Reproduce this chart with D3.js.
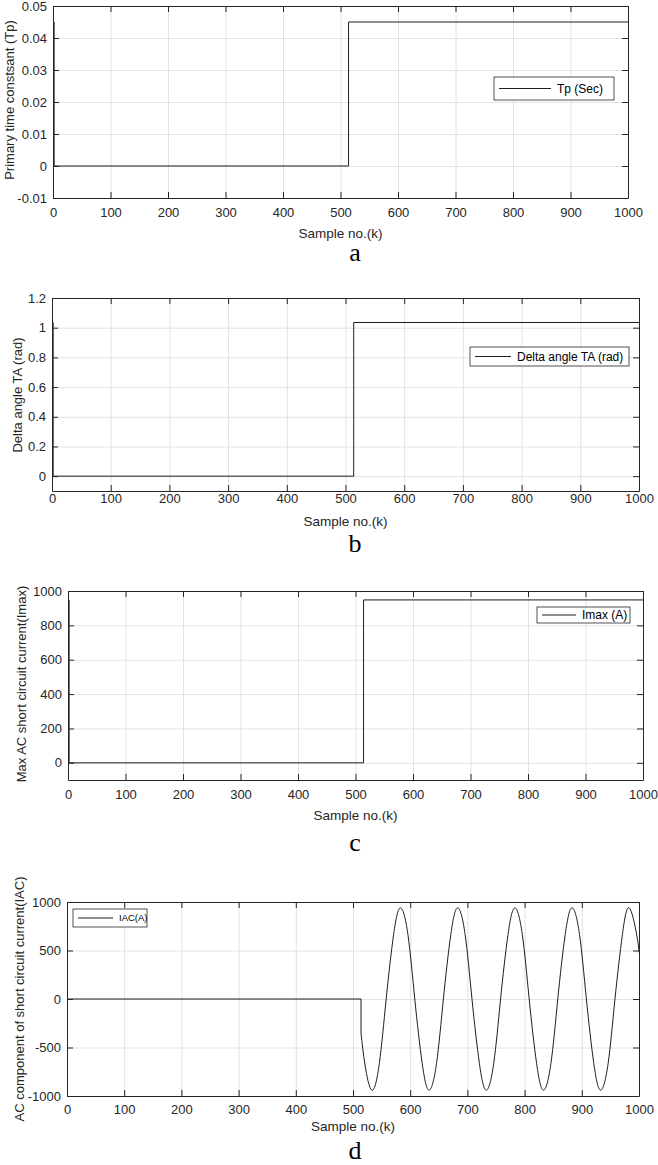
<!DOCTYPE html>
<html>
  <head>
    <meta charset="utf-8" />
    <title>Fault current parameters</title>
    <script src="https://cdn.jsdelivr.net/npm/d3@7"></script>
    <style>
      body {
        margin: 0;
        background: #fff;
      }
      svg {
        display: block;
        font-family: "Liberation Sans", Arial, sans-serif;
      }
    </style>
  </head>
  <body>
    <svg id="chart" width="658" height="1165"></svg>
    <script>
      // sample numbers and tick values
      const xTicks = [0, 100, 200, 300, 400, 500, 600, 700, 800, 900, 1000];

      // step signals (a, b, c) are sampled at these k, drawn as step-after
      const stepK = [0, 2, 514, 1000];
      const tpValues = [0.045, 0, 0.045, 0.045];
      const taValues = [1.035, 0, 1.035, 1.035];
      const imaxValues = [948, 0, 948, 948];

      // IAC: flat before the fault, then the oscillation
      const iacPreK = [0, 514, 514];
      const iacPreV = [0, 0, -350];
      const iacK = [514, 521, 533, 546, 558, 571, 583, 596, 608, 621, 633, 646, 658,
        671, 683, 696, 708, 721, 733, 746, 758, 771, 783, 796, 808, 821, 833, 846,
        858, 871, 883, 896, 908, 921, 933, 946, 958, 971, 983, 996, 1000];
      const iacV = [-350, -680, -940, -665, 0, 665, 940, 665, 0, -665, -940, -665, 0,
        665, 940, 665, 0, -665, -940, -665, 0, 665, 940, 665, 0, -665, -940, -665,
        0, 665, 940, 665, 0, -665, -940, -665, 0, 665, 940, 660, 480];

      const tpTicks = [-0.01, 0, 0.01, 0.02, 0.03, 0.04, 0.05];
      const taTicks = [0, 0.2, 0.4, 0.6, 0.8, 1, 1.2];
      const imaxTicks = [0, 200, 400, 600, 800, 1000];
      const iacTicks = [-1000, -500, 0, 500, 1000];

      const ink = "#262626";
      const gridColor = "#e2e2e2";
      const lineColor = "#1e1e1e";
      const svg = d3.select("#chart");

      function drawPanel(p) {
        const g = svg.append("g");
        const x = d3.scaleLinear().domain([0, 1000]).range([p.l, p.r]);
        const y = d3.scaleLinear().domain(p.yDomain).range([p.b, p.t]);
        const h = p.b - p.t;
        const w = p.r - p.l;

        // grid
        g.append("g")
          .attr("transform", `translate(0,${p.b})`)
          .call(d3.axisBottom(x).tickValues(xTicks).tickSize(-h).tickFormat(""))
          .call((s) => {
            s.select(".domain").remove();
            s.selectAll("line").attr("stroke", gridColor);
          });
        g.append("g")
          .attr("transform", `translate(${p.l},0)`)
          .call(d3.axisLeft(y).tickValues(p.yTicks).tickSize(-w).tickFormat(""))
          .call((s) => {
            s.select(".domain").remove();
            s.selectAll("line").attr("stroke", gridColor);
          });

        // data
        p.series.forEach((sr) => {
          const line = d3
            .line()
            .x((d) => x(d[0]))
            .y((d) => y(d[1]))
            .curve(sr.curve);
          g.append("path")
            .datum(d3.zip(sr.k, sr.v))
            .attr("fill", "none")
            .attr("stroke", lineColor)
            .attr("stroke-width", 1)
            .attr("d", line);
        });

        // axes, ticks pointing inward on all four sides
        const styleAxis = (s) => {
          s.select(".domain").attr("stroke", ink);
          s.selectAll("line").attr("stroke", ink);
          s.selectAll("text")
            .attr("fill", ink)
            .style("font-size", "13px")
            .style("font-family", "'Liberation Sans', Arial, sans-serif");
        };
        g.append("g")
          .attr("transform", `translate(0,${p.b})`)
          .call(
            d3.axisBottom(x).tickValues(xTicks).tickSizeInner(-6).tickSizeOuter(0)
              .tickPadding(p.xPad).tickFormat((d) => String(d))
          )
          .call(styleAxis);
        g.append("g")
          .attr("transform", `translate(0,${p.t})`)
          .call(d3.axisTop(x).tickValues(xTicks).tickSizeInner(-6).tickSizeOuter(0).tickFormat(""))
          .call(styleAxis);
        g.append("g")
          .attr("transform", `translate(${p.l},0)`)
          .call(
            d3.axisLeft(y).tickValues(p.yTicks).tickSizeInner(-6).tickSizeOuter(0)
              .tickPadding(6).tickFormat((d) => String(d))
          )
          .call(styleAxis);
        g.append("g")
          .attr("transform", `translate(${p.r},0)`)
          .call(d3.axisRight(y).tickValues(p.yTicks).tickSizeInner(-6).tickSizeOuter(0).tickFormat(""))
          .call(styleAxis);

        // axis labels
        g.append("text")
          .attr("x", (p.l + p.r) / 2)
          .attr("y", p.xLabelY)
          .attr("text-anchor", "middle")
          .attr("dy", "0.35em")
          .attr("fill", ink)
          .style("font-size", "13.5px")
          .text("Sample no.(k)");
        g.append("text")
          .attr("transform", `translate(${p.yLabelX},${p.yLabelY}) rotate(-90)`)
          .attr("text-anchor", "middle")
          .attr("dy", "0.35em")
          .attr("fill", ink)
          .style("font-size", "13px")
          .text(p.yLabel);

        // legend
        const lg = p.legend;
        const lgG = g.append("g");
        lgG.append("rect")
          .attr("x", lg.x)
          .attr("y", lg.y)
          .attr("width", lg.w)
          .attr("height", lg.h)
          .attr("fill", "#fff")
          .attr("stroke", ink)
          .attr("stroke-width", 0.8);
        lgG.append("line")
          .attr("x1", lg.x + 5)
          .attr("x2", lg.tx - 6)
          .attr("y1", lg.y + lg.h / 2)
          .attr("y2", lg.y + lg.h / 2)
          .attr("stroke", lineColor);
        lgG.append("text")
          .attr("x", lg.tx)
          .attr("y", lg.y + lg.h / 2)
          .attr("dy", "0.35em")
          .attr("fill", "#000")
          .style("font-size", lg.fs + "px")
          .text(lg.text);

        // caption letter
        g.append("text")
          .attr("x", p.capX)
          .attr("y", p.capY)
          .attr("text-anchor", "middle")
          .attr("dy", "0.35em")
          .attr("fill", "#000")
          .style("font-family", "'Liberation Serif', 'Times New Roman', serif")
          .style("font-size", "26px")
          .text(p.caption);
      }

      drawPanel({
        l: 53, r: 628, t: 6, b: 198, xPad: 10,
        yDomain: [-0.01, 0.05], yTicks: tpTicks,
        series: [{ k: stepK, v: tpValues, curve: d3.curveStepAfter }],
        yLabel: "Primary time constsant (Tp)", yLabelX: 9, yLabelY: 100,
        xLabelY: 233,
        legend: { x: 494, y: 77, w: 120, h: 23, tx: 557, text: "Tp (Sec)", fs: 12 },
        caption: "a", capX: 355, capY: 252
      });

      drawPanel({
        l: 52, r: 639, t: 298, b: 491, xPad: 3,
        yDomain: [-0.1, 1.2], yTicks: taTicks,
        series: [{ k: stepK, v: taValues, curve: d3.curveStepAfter }],
        yLabel: "Delta angle TA (rad)", yLabelX: 17, yLabelY: 395,
        xLabelY: 521,
        legend: { x: 470, y: 347, w: 159, h: 19, tx: 517, text: "Delta angle TA (rad)", fs: 12 },
        caption: "b", capX: 355, capY: 543
      });

      drawPanel({
        l: 68, r: 643, t: 591, b: 780, xPad: 10,
        yDomain: [-100, 1000], yTicks: imaxTicks,
        series: [{ k: stepK, v: imaxValues, curve: d3.curveStepAfter }],
        yLabel: "Max AC short circuit current(Imax)", yLabelX: 21, yLabelY: 684,
        xLabelY: 815,
        legend: { x: 537, y: 607, w: 93, h: 16, tx: 582, text: "Imax (A)", fs: 12 },
        caption: "c", capX: 355, capY: 842
      });

      drawPanel({
        l: 67, r: 639, t: 902, b: 1096, xPad: 9,
        yDomain: [-1000, 1000], yTicks: iacTicks,
        series: [
          { k: iacPreK, v: iacPreV, curve: d3.curveLinear },
          { k: iacK, v: iacV, curve: d3.curveNatural }
        ],
        yLabel: "AC component of short circuit current(IAC)", yLabelX: 19, yLabelY: 999,
        xLabelY: 1126,
        legend: { x: 73, y: 909, w: 74, h: 18, tx: 119, text: "IAC(A)", fs: 9.5 },
        caption: "d", capX: 355, capY: 1150
      });
    </script>
  </body>
</html>
